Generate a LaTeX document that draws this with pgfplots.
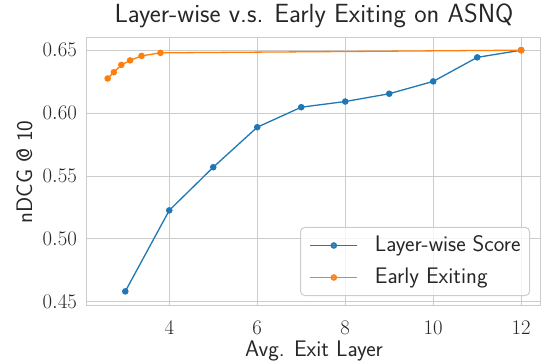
\documentclass[border=0pt]{standalone}
\usepackage{pgfplots}
\pgfplotsset{compat=1.18}
\definecolor{c1}{HTML}{1F77B4}
\definecolor{c2}{HTML}{FF7F0E}
\definecolor{gridc}{HTML}{CCCCCC}
\definecolor{txt}{HTML}{262626}
\begin{document}
\begin{tikzpicture}
\begin{axis}[
  scale only axis, width=454pt, height=268pt,
  xmin=2.13, xmax=12.45, ymin=0.4467, ymax=0.6597,
  xtick={4,6,8,10,12}, ytick={0.45,0.50,0.55,0.60,0.65},
  y tick label style={/pgf/number format/fixed, /pgf/number format/fixed zerofill, /pgf/number format/precision=2},
  grid=major, major grid style={draw=gridc, line width=1pt},
  axis line style={draw=gridc, line width=1pt},
  tick style={draw=none},
  ticklabel style={font=\fontsize{22}{22}\selectfont, text=txt, inner sep=0pt},
  yticklabel style={anchor=east, xshift=-10pt},
  xticklabel style={anchor=north, yshift=-15pt},
  title={Layer-wise v.s. Early Exiting on ASNQ},
  title style={font=\sffamily\fontsize{26.3}{28}\selectfont, text=txt, at={(axis description cs:0.5,1.0336)}, anchor=base, inner sep=0pt},
  xlabel={Avg. Exit Layer},
  xlabel style={font=\sffamily\fontsize{22.5}{24}\selectfont, text=txt, at={(axis description cs:0.5,-0.189)}, anchor=base, inner sep=0pt},
  ylabel={nDCG @ 10},
  ylabel style={font=\sffamily\fontsize{22.5}{24}\selectfont, text=txt, at={(axis description cs:-0.1211,0.5)}, anchor=base, inner sep=0pt},
  legend style={at={(axis description cs:0.9758,0.0373)}, anchor=south east,
    draw=gridc, rounded corners=4pt, fill=white, fill opacity=0.8, text opacity=1,
    font=\sffamily\fontsize{22.5}{24}\selectfont, text=txt, line width=1pt,
    inner xsep=9pt, inner ysep=7.5pt, row sep=11pt,
    nodes={inner sep=0pt, text height=16pt, text depth=5pt},
    /tikz/every odd column/.append style={column sep=17pt}},
  legend cell align=left,
  legend image code/.code={\draw[mark repeat=2, mark phase=2] plot coordinates {(0pt,0pt) (23.5pt,0pt) (47pt,0pt)};},
  every axis plot/.append style={line width=1.3pt, mark=*, mark size=2.6pt},
]
\addplot[c1, mark options={fill=c1, draw=c1}] coordinates {
(3,0.4583) (4,0.5227) (5,0.5570) (6,0.5888) (7,0.6047) (8,0.6092) (9,0.6154) (10,0.6252) (11,0.6443) (12,0.6500)
};
\addlegendentry{Layer-wise Score}
\addplot[c2, mark options={fill=c2, draw=c2}] coordinates {
(2.60,0.6275) (2.74,0.6325) (2.91,0.6383) (3.11,0.6419) (3.37,0.6455) (3.80,0.6479) (12,0.6500)
};
\addlegendentry{Early Exiting}
\end{axis}
\pgfresetboundingbox
\path[use as bounding box] (-87pt,-57pt) rectangle (455pt,306pt);
\end{tikzpicture}
\end{document}
